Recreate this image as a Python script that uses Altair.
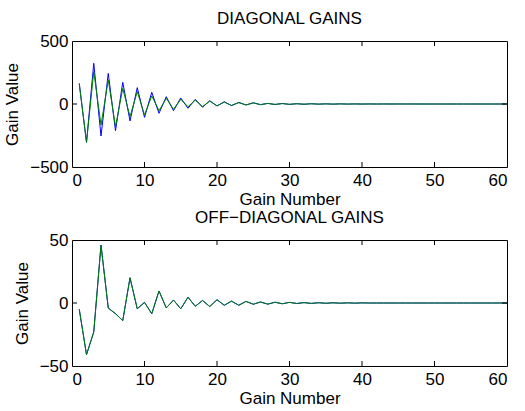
import altair as alt
import pandas as pd

gain_number = list(range(1, 61))

diag_blue = [164, -304, 323, -254, 243, -212, 172, -135, 130, -106,
             93, -74, 58, -53, 48, -34, 37, -26, 26, -16,
             18, -13, 13, -8, 10, -5, 5, -4, 4, -3,
             2, -2, 2, -1, 1, -1, 1, -0.5, 0.5, -0.4,
             0.3, -0.3, 0.2, -0.2, 0.1, -0.1, 0.1, 0, 0, 0,
             0, 0, 0, 0, 0, 0, 0, 0, 0, 0]
diag_green = [160, -304, 257, -167, 190, -180, 124, -100, 98, -87,
              64, -53, 45, -42, 37, -21, 30, -20, 22, -14,
              15, -11, 10, -7, 8, -5, 4, -3, 3, -2,
              2, -1.5, 1.5, -1, 1, -0.8, 0.7, -0.5, 0.4, -0.3,
              0.3, -0.2, 0.2, -0.1, 0.1, -0.1, 0, 0, 0, 0,
              0, 0, 0, 0, 0, 0, 0, 0, 0, 0]
off_blue = [-5, -41, -23, 46, -4, -8.5, -14, 20, -4.6, 0.5,
            -8.5, 9.5, -3.9, 2.3, -4.6, 4.6, -2.6, 2, -2.8, 2.6,
            -1.8, 1.5, -1.8, 1.3, -1, 0.8, -0.9, 0.6, -0.6, 0.5,
            -0.4, 0.3, -0.3, 0.2, -0.2, 0.15, -0.15, 0.1, -0.1, 0.1,
            0, 0, 0, 0, 0, 0, 0, 0, 0, 0,
            0, 0, 0, 0, 0, 0, 0, 0, 0, 0]
off_green = [-5, -41, -23, 46, -4, -8.5, -14, 20, -4.6, 0.5,
             -8.5, 9.5, -3.9, 2.3, -4.6, 4.6, -2.6, 2, -2.8, 2.6,
             -1.8, 1.5, -1.8, 1.3, -1, 0.8, -0.9, 0.6, -0.6, 0.5,
             -0.4, 0.3, -0.3, 0.2, -0.2, 0.15, -0.15, 0.1, -0.1, 0.1,
             0, 0, 0, 0, 0, 0, 0, 0, 0, 0,
             0, 0, 0, 0, 0, 0, 0, 0, 0, 0]

x_ticks = [10, 20, 30, 40, 50]
top_y_ticks = [0]
bottom_y_ticks = [0]

W, H = 435, 126
FONT = "Liberation Sans"
FS = 17


def panel(title, blue, green, ydom, yticks, inner_yticks):
    df = pd.DataFrame({"n": gain_number, "blue": blue, "green": green})
    xs = alt.Scale(domain=[0, 60], nice=False)
    ys = alt.Scale(domain=ydom, nice=False)
    xax = alt.Axis(values=[0, 10, 20, 30, 40, 50, 60], ticks=False, grid=False,
                   domain=False, labelPadding=5, titlePadding=3, format="d")
    yax = alt.Axis(values=yticks, ticks=False, grid=False, domain=False,
                   labelPadding=4, titlePadding=8, format="d")
    base = alt.Chart(df)
    lb = base.mark_line(color="#0000ff", strokeWidth=1).encode(
        x=alt.X("n:Q", scale=xs, axis=xax, title="Gain Number"),
        y=alt.Y("blue:Q", scale=ys, axis=yax, title="Gain Value"),
    )
    lg = base.mark_line(color="#008000", strokeWidth=1).encode(
        x=alt.X("n:Q", scale=xs), y=alt.Y("green:Q", scale=ys)
    )
    tx = pd.DataFrame({"t": x_ticks})
    ty = pd.DataFrame({"t": inner_yticks})
    txb = alt.Chart(tx).mark_rule(color="black", strokeWidth=1).encode(
        x=alt.X("t:Q", scale=xs), y=alt.value(H), y2=alt.value(H - 5))
    txt = alt.Chart(tx).mark_rule(color="black", strokeWidth=1).encode(
        x=alt.X("t:Q", scale=xs), y=alt.value(0), y2=alt.value(5))
    tyl = alt.Chart(ty).mark_rule(color="black", strokeWidth=1).encode(
        y=alt.Y("t:Q", scale=ys), x=alt.value(0), x2=alt.value(5))
    tyr = alt.Chart(ty).mark_rule(color="black", strokeWidth=1).encode(
        y=alt.Y("t:Q", scale=ys), x=alt.value(W - 5), x2=alt.value(W))
    return alt.layer(lb, lg, txb, txt, tyl, tyr).properties(
        width=W, height=H,
        title=alt.TitleParams(title, fontSize=FS, font=FONT, fontWeight="normal",
                              anchor="middle", offset=4, color="black"),
    )


top = panel("DIAGONAL GAINS", diag_blue, diag_green, [-500, 500], [-500, 0, 500], top_y_ticks)
bottom = panel("OFF\u2212DIAGONAL GAINS", off_blue, off_green, [-50, 50], [-50, 0, 50], bottom_y_ticks)

chart = alt.vconcat(top, bottom, spacing=0).configure_view(
    stroke="black", strokeWidth=1
).configure_axis(
    labelFont=FONT, titleFont=FONT, labelFontSize=FS, titleFontSize=FS,
    labelColor="black", titleColor="black", titleFontWeight="normal"
).properties(
    padding={"left": 3, "top": 9, "right": 10, "bottom": 5},
    background="white",
)

chart.save("out.html", embed_options={"renderer": "svg", "actions": False})
